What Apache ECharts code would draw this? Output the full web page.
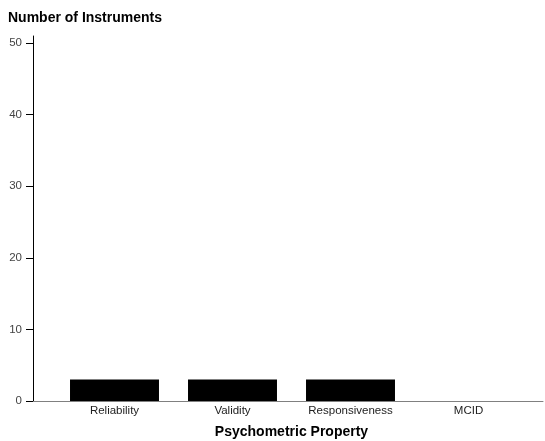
<!DOCTYPE html>
<html><head><meta charset="utf-8">
<script src="https://cdn.jsdelivr.net/npm/echarts@6/dist/echarts.min.js"></script>
<style>html,body{margin:0;padding:0;background:#fff}#c{width:545px;height:441px}</style>
</head><body><div id="c"></div>
<script>
var categories = ['Reliability', 'Validity', 'Responsiveness', 'MCID'];
var counts = [3, 3, 3, 0];
var yTicks = [0, 10, 20, 30, 40, 50];

var chart = echarts.init(document.getElementById('c'), null, {renderer: 'canvas'});
chart.setOption({
  animation: false,
  backgroundColor: '#fff',
  title: {
    text: 'Number of Instruments', left: 3, top: 6,
    textStyle: {fontFamily: 'Arial, Liberation Sans', fontSize: 14, fontWeight: 'bold', color: '#000'}
  },
  grid: [
    {left: 55.5, right: 17.5, top: 36, bottom: 40, outerBoundsMode: 'none', containLabel: false},
    {left: 33, right: 2, top: 36, bottom: 40, outerBoundsMode: 'none', containLabel: false}
  ],
  xAxis: [
    {
      type: 'category', gridIndex: 0, data: categories,
      axisLine: {show: false}, axisTick: {show: false},
      axisLabel: {fontFamily: 'Arial, Liberation Sans', fontSize: 11.5, color: '#222', margin: 4},
      name: 'Psychometric Property', nameLocation: 'middle', nameGap: 24,
      nameTextStyle: {fontFamily: 'Arial, Liberation Sans', fontSize: 14, fontWeight: 'bold', color: '#000'}
    },
    {
      type: 'value', gridIndex: 1, min: 0, max: 1,
      axisLine: {show: true, lineStyle: {color: '#808080', width: 1}},
      axisTick: {show: false}, axisLabel: {show: false}, splitLine: {show: false}
    }
  ],
  yAxis: [
    {
      type: 'value', gridIndex: 0, min: yTicks[0], max: 51, interval: 10, offset: 22.5,
      axisLine: {show: true, lineStyle: {color: '#000', width: 1}},
      axisTick: {show: true, length: 7, lineStyle: {color: '#000'}},
      axisLabel: {fontFamily: 'Arial, Liberation Sans', fontSize: 11.5, color: '#444', margin: 11,
        showMaxLabel: false,
        formatter: function (v) { return yTicks.indexOf(v) >= 0 ? String(v) : ''; }},
      splitLine: {show: false}
    },
    {
      type: 'value', gridIndex: 1, show: false, min: 0, max: 1
    }
  ],
  series: [{
    type: 'bar', xAxisIndex: 0, yAxisIndex: 0, data: counts,
    barCategoryGap: '24.6%',
    itemStyle: {color: '#000', borderWidth: 0}
  }]
});
</script></body></html>
